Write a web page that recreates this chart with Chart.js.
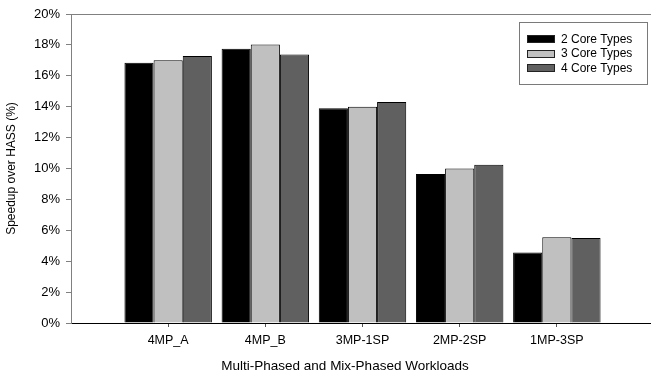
<!DOCTYPE html>
<html>
<head>
<meta charset="utf-8">
<script src="https://cdn.jsdelivr.net/npm/chart.js@4/dist/chart.umd.min.js"></script>
<style>
  html, body { margin: 0; padding: 0; background: #fff; overflow: hidden; }
  #wrap { position: relative; width: 660px; height: 374px; }
</style>
</head>
<body>
<div id="wrap"><canvas id="c" width="660" height="374"></canvas></div>
<script>
// Workload categories and speedup values (%) per number of core types
const workloads = ['4MP_A', '4MP_B', '3MP-1SP', '2MP-2SP', '1MP-3SP'];
const twoCoreTypes   = [16.85, 17.75, 13.9, 9.65, 4.57];
const threeCoreTypes = [17.0, 18.03, 14.0, 10.0, 5.55];
const fourCoreTypes  = [17.28, 17.38, 14.3, 10.25, 5.5];
const seriesNames = ['2 Core Types', '3 Core Types', '4 Core Types'];
const yTicks = [0, 2, 4, 6, 8, 10, 12, 14, 16, 18, 20];
const xTitle = 'Multi-Phased and Mix-Phased Workloads';
const yTitle = 'Speedup over HASS (%)';

const FONT = "'Liberation Sans', Arial, Helvetica, sans-serif";

// an empty slot on each side keeps the groups off the axes
const labels = [''].concat(workloads, ['']);
const pad = arr => [null].concat(arr, [null]);

const fills = ['#000000', '#c0c0c0', '#606060'];

const datasets = [twoCoreTypes, threeCoreTypes, fourCoreTypes].map((vals, i) => ({
  label: seriesNames[i],
  data: pad(vals),
  backgroundColor: fills[i],
  borderColor: '#000000',
  borderWidth: 1,
  categoryPercentage: 0.9,
  barPercentage: 1.0
}));

// boxed legend inside the plot and the x-axis title
const extras = {
  id: 'extras',
  afterDraw(chart) {
    const ctx = chart.ctx;
    ctx.save();
    // legend frame
    const bx = 519.5, by = 22.5, bw = 128, bh = 62;
    ctx.fillStyle = '#ffffff';
    ctx.fillRect(bx, by, bw, bh);
    ctx.strokeStyle = '#7a7a7a';
    ctx.lineWidth = 1;
    ctx.strokeRect(bx, by, bw, bh);
    ctx.font = '12px ' + FONT;
    ctx.textBaseline = 'middle';
    chart.data.datasets.forEach((ds, i) => {
      const y = 39 + i * 14.5;
      ctx.fillStyle = ds.backgroundColor;
      ctx.fillRect(527, Math.round(y - 4), 28, 8);
      ctx.strokeStyle = '#222';
      ctx.strokeRect(527.5, Math.round(y - 4) + 0.5, 27, 7);
      ctx.fillStyle = '#000';
      ctx.textAlign = 'left';
      ctx.fillText(ds.label, 561, y + 0.5);
    });
    // x-axis title
    ctx.font = '13.5px ' + FONT;
    ctx.textAlign = 'center';
    ctx.textBaseline = 'middle';
    ctx.fillStyle = '#000';
    ctx.fillText(xTitle, 345, 366);
    ctx.restore();
  }
};

new Chart(document.getElementById('c'), {
  type: 'bar',
  data: { labels, datasets },
  plugins: [extras],
  options: {
    responsive: false,
    animation: false,
    layout: { padding: { top: 14, right: 3, left: 0, bottom: 0 } },
    plugins: { legend: { display: false }, tooltip: { enabled: false } },
    scales: {
      x: {
        offset: false,
        afterFit(s) { s.height = 51; },
        grid: {
          offset: false,
          drawOnChartArea: false,
          tickLength: 4,
          tickColor: c => (c.index === 0 || c.index === labels.length - 1) ? 'rgba(0,0,0,0)' : '#555'
        },
        border: { color: '#000', width: 1 },
        ticks: {
          color: '#000',
          font: { family: FONT, size: 12.5 },
          padding: 6,
          maxRotation: 0,
          autoSkip: false
        }
      },
      y: {
        min: 0,
        max: 20,
        afterFit(s) { s.width = 71; },
        afterBuildTicks(s) { s.ticks = yTicks.map(v => ({ value: v })); },
        grid: {
          drawOnChartArea: true,
          color: c => (c.tick && c.tick.value === 20) ? '#808080' : 'rgba(0,0,0,0)',
          tickColor: '#808080',
          tickLength: 5
        },
        border: { color: '#808080', width: 1 },
        ticks: {
          color: '#000',
          font: { family: FONT, size: 13 },
          padding: 6,
          callback: v => v + '%'
        },
        title: {
          display: true,
          text: yTitle,
          color: '#000',
          font: { family: FONT, size: 12 },
          padding: { top: 4, bottom: 0 }
        }
      }
    }
  }
});
</script>
</body>
</html>
